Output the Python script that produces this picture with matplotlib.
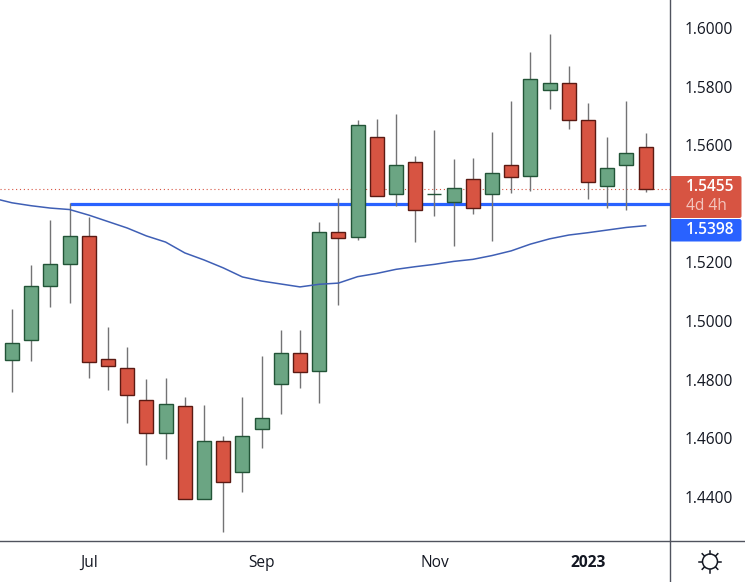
import matplotlib
matplotlib.use('Agg')
import matplotlib.pyplot as plt
import numpy as np
from matplotlib.patches import Circle, FancyBboxPatch
from matplotlib.transforms import ScaledTranslation

plt.rcParams['font.family'] = ['Open Sans', 'DejaVu Sans']

# weekly candles
opens = [1.4870, 1.4938, 1.5122, 1.5197, 1.5293, 1.4873, 1.4842, 1.4733, 1.4621, 1.4713, 1.4395, 1.4593,
         1.4487, 1.4634, 1.4788, 1.4893, 1.4832, 1.5306, 1.5289, 1.5630, 1.5436, 1.5545, 1.5436, 1.5409,
         1.5487, 1.5436, 1.5535, 1.5497, 1.5791, 1.5815, 1.5688, 1.5463, 1.5535, 1.5596]
closes = [1.4928, 1.5122, 1.5197, 1.5293, 1.4863, 1.4849, 1.4750, 1.4621, 1.4720, 1.4395, 1.4593, 1.4453,
          1.4610, 1.4672, 1.4893, 1.4829, 1.5306, 1.5286, 1.5671, 1.5429, 1.5535, 1.5381, 1.5437, 1.5456,
          1.5388, 1.5508, 1.5494, 1.5828, 1.5815, 1.5688, 1.5477, 1.5525, 1.5576, 1.5455]
highs = [1.5045, 1.5195, 1.5348, 1.5406, 1.5359, 1.4983, 1.4915, 1.4806, 1.4809, 1.4744, 1.4717, 1.4610,
         1.4744, 1.4884, 1.4973, 1.4973, 1.5341, 1.5423, 1.5690, 1.5693, 1.5710, 1.5567, 1.5655, 1.5556,
         1.5560, 1.5649, 1.5754, 1.5922, 1.5983, 1.5874, 1.5748, 1.5631, 1.5754, 1.5645]
lows = [1.4761, 1.4868, 1.5052, 1.5066, 1.4810, 1.4768, 1.4657, 1.4513, 1.4534, 1.4395, 1.4395, 1.4285,
        1.4421, 1.4571, 1.4687, 1.4776, 1.4725, 1.5058, 1.5281, 1.5429, 1.5397, 1.5274, 1.5363, 1.5261,
        1.5370, 1.5278, 1.5441, 1.5448, 1.5728, 1.5660, 1.5421, 1.5390, 1.5383, 1.5445]

# moving average, first value is the bar just off the left edge
ma_values = [1.5423, 1.5407, 1.5397, 1.5389, 1.5384, 1.5365, 1.5343, 1.5321, 1.5294, 1.5273, 1.5236, 1.5212,
             1.5185, 1.5154, 1.5140, 1.5130, 1.5120, 1.5129, 1.5133, 1.5155, 1.5166, 1.5180, 1.5189, 1.5197,
             1.5207, 1.5214, 1.5227, 1.5243, 1.5266, 1.5284, 1.5297, 1.5305, 1.5314, 1.5323, 1.5329]

level_price = 1.5403
level_start = 3
last_price = 1.5455

y_ticks = [1.44, 1.46, 1.48, 1.50, 1.52, 1.56, 1.58, 1.60]
x_ticks = [4, 13, 22, 30]
x_labels = ['Jul', 'Sep', 'Nov', '2023']

GREEN, GREEN_EDGE = '#6ba583', '#225437'
RED, RED_EDGE = '#d75442', '#5b1a13'
WICK = '#737375'
BLUE = '#2962ff'
TEXT = '#131722'
LINE = '#50535e'

fig = plt.figure(figsize=(7.45, 5.82), dpi=100)
ax = fig.add_axes([0, 41 / 582, 670 / 745, 541 / 582])

x = np.arange(len(opens))
up = np.array(closes) >= np.array(opens)
bottoms = np.minimum(opens, closes)
heights = np.abs(np.array(closes) - np.array(opens))

ax.hlines(level_price, level_start, 35, color=BLUE, lw=2.3, zorder=1)
ax.axhline(last_price, color=RED, lw=0.8, ls=(0, (1, 2.5)), zorder=1)
ax.vlines(x, lows, highs, color=WICK, lw=1.0, zorder=2)
ax.bar(x, heights, bottom=bottoms, width=0.73, zorder=3,
       color=[GREEN if u else RED for u in up],
       edgecolor=[GREEN_EDGE if u else RED_EDGE for u in up], linewidth=1.0)
ax.plot(np.arange(-1, len(opens)), ma_values, color='#3f5fb5', lw=1.1, zorder=4)

ax.set_xlim(-0.625, 34.27)
ax.set_ylim(1.4253, 1.6099)
ax.yaxis.tick_right()
ax.set_yticks(y_ticks)
ax.set_yticklabels([f'{v:.4f}' for v in y_ticks])
ax.set_xticks(x_ticks)
ax.set_xticklabels(x_labels)
ax.tick_params(axis='both', length=0, labelsize=11.2, labelcolor=TEXT)
ax.tick_params(axis='y', pad=10.8)
ax.tick_params(axis='x', pad=10)
ax.get_xticklabels()[-1].set_fontweight('bold')
# move price labels up one pixel
for lab in ax.get_yticklabels():
    lab.set_transform(lab.get_transform() + ScaledTranslation(0, 1 / 100, fig.dpi_scale_trans))
for side in ['top', 'left', 'right', 'bottom']:
    ax.spines[side].set_visible(False)

# price scale chrome, drawn in pixel coordinates over the whole figure
over = fig.add_axes([0, 0, 1, 1], facecolor='none')
over.set_xlim(0, 745)
over.set_ylim(582, 0)
over.axis('off')
over.plot([670, 670], [0, 582], color=LINE, lw=1.0)
over.plot([0, 745], [541, 541], color=LINE, lw=1.0)

over.add_patch(FancyBboxPatch((670, 176), 71.5, 42, boxstyle='round,pad=0,rounding_size=2', fc=RED, ec='none'))
over.add_patch(FancyBboxPatch((670, 219), 71.5, 22.5, boxstyle='round,pad=0,rounding_size=2', fc=BLUE, ec='none'))
over.text(734, 187, f'{last_price:.4f}', color='white', fontsize=11.2, ha='right', va='center', fontweight='semibold')
over.text(727, 206, '4d 4h', color='#f3c5be', fontsize=11.2, ha='right', va='center')
over.text(734, 230, '1.5398', color='white', fontsize=11.2, ha='right', va='center', fontweight='semibold')

# settings icon
over.add_patch(Circle((710, 561.5), 7.5, fc='white', ec=TEXT, lw=1.1))
for a in np.deg2rad(np.arange(0, 360, 45)):
    over.plot([710 + 8 * np.cos(a), 710 + 11 * np.cos(a)], [561.5 + 8 * np.sin(a), 561.5 + 11 * np.sin(a)],
              color=TEXT, lw=1.1)

fig.savefig('out.png', dpi=100)
